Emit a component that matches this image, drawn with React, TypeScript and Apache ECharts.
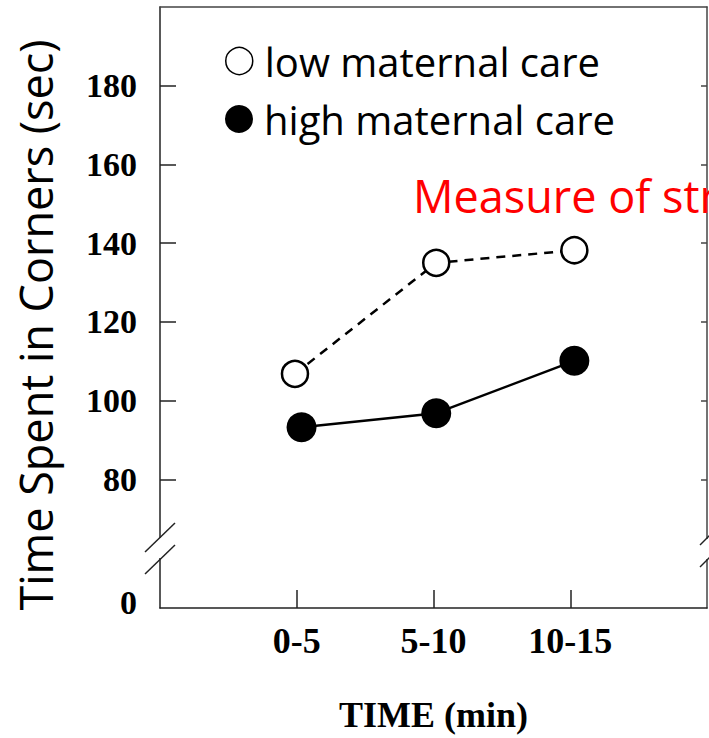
import React, { useEffect, useRef } from "react";
import * as echarts from "echarts";

// ---- data ----
const categories = ["0-5", "5-10", "10-15"];
const categoryPos = [1, 2, 3];
const lowX = [0.987, 2.02, 3.03];
const lowY = [106.8, 135.0, 138.2];
const highX = [1.035, 2.02, 3.03];
const highY = [93.2, 96.8, 110.1];
const yTickValues = [80, 100, 120, 140, 160, 180];
const yTickLabels = ["80", "100", "120", "140", "160", "180"];
const yBreakMin = 47.3; // bottom of the broken axis, labelled "0"
const yBreakLabel = "0";
const yMax = 200;
const seriesNames = ["low maternal care", "high maternal care"];
const yTitle = "Time Spent in Corners (sec)";
const xTitle = "TIME (min)";
const note = "Measure of stress";

const SANS = '"Open Sans", "Noto Sans", sans-serif';
const SERIF = '"Liberation Serif", "DejaVu Serif", serif';
const AXIS_COLOR = "#222";

export default function App() {
  const ref = useRef<HTMLDivElement>(null);
  useEffect(() => {
    if (!ref.current) return;
    const chart = echarts.init(ref.current, undefined, { renderer: "svg" });
    const yLabelValues = [yBreakMin, ...yTickValues];
    const yLabelTexts = [yBreakLabel, ...yTickLabels];
    const labelFont = { fontFamily: SERIF, fontWeight: "bold", fontSize: 34, color: "#000" };
    const option: any = {
      animation: false,
      backgroundColor: "#fff",
      grid: { left: 160, top: 7, right: 2, bottom: 130, containLabel: false },
      legend: [
        {
          data: [{ name: seriesNames[0], itemStyle: { borderWidth: 1.5 } }],
          left: 225,
          top: 41,
          orient: "vertical",
          icon: "circle",
          itemWidth: 27,
          itemHeight: 27,
          padding: 0,
          selectedMode: false,
          textStyle: { fontFamily: SANS, fontSize: 40, color: "#000", padding: [18, 0, 0, 7] },
        },
        {
          data: [{ name: seriesNames[1] }],
          left: 225,
          top: 99,
          orient: "vertical",
          icon: "circle",
          itemWidth: 28,
          itemHeight: 28,
          padding: 0,
          selectedMode: false,
          textStyle: { fontFamily: SANS, fontSize: 40, color: "#000", padding: [13, 0, 0, 6] },
        },
      ],
      xAxis: [
        {
          type: "value",
          min: 0,
          max: 4,
          position: "bottom",
          splitLine: { show: false },
          axisLine: { show: true, onZero: false, lineStyle: { color: AXIS_COLOR, width: 1.5 } },
          axisTick: {
            show: true,
            inside: true,
            length: 18,
            customValues: categoryPos,
            lineStyle: { color: AXIS_COLOR, width: 1.5 },
          },
          axisLabel: {
            show: true,
            customValues: categoryPos,
            formatter: (v: number) => categories[categoryPos.indexOf(Math.round(v))] ?? "",
            margin: 15,
            fontFamily: SERIF,
            fontWeight: "bold",
            fontSize: 36,
            color: "#000",
          },
          name: xTitle,
          nameLocation: "middle",
          nameGap: 89,
          nameTextStyle: { fontFamily: SERIF, fontWeight: "bold", fontSize: 36, color: "#000" },
        },
        {
          type: "value",
          min: 0,
          max: 4,
          position: "top",
          splitLine: { show: false },
          axisLine: { show: true, onZero: false, lineStyle: { color: "#444", width: 1.5 } },
          axisTick: { show: false },
          axisLabel: { show: false },
        },
      ],
      yAxis: [
        {
          type: "value",
          min: yBreakMin,
          max: yMax,
          position: "left",
          splitLine: { show: false },
          axisLine: { show: true, onZero: false, lineStyle: { color: AXIS_COLOR, width: 1.5 } },
          axisTick: {
            show: true,
            inside: true,
            length: 16,
            customValues: yTickValues,
            lineStyle: { color: AXIS_COLOR, width: 1.5 },
          },
          axisLabel: {
            show: true,
            customValues: yLabelValues,
            formatter: (v: number) => {
              const i = yLabelValues.findIndex((x) => Math.abs(x - v) < 0.01);
              if (i < 0) return "";
              return i === 0 ? "{z|" + yLabelTexts[i] + "}" : yLabelTexts[i];
            },
            margin: 23,
            ...labelFont,
            rich: { z: { ...labelFont, padding: [0, 0, 12, 0] } },
          },
        },
        {
          type: "value",
          min: yBreakMin,
          max: yMax,
          position: "right",
          splitLine: { show: false },
          axisLine: { show: true, onZero: false, lineStyle: { color: "#444", width: 1.5 } },
          axisTick: {
            show: true,
            inside: true,
            length: 6,
            customValues: yTickValues,
            lineStyle: { color: "#444", width: 1.5 },
          },
          axisLabel: { show: false },
        },
      ],
      series: [
        {
          type: "line",
          name: seriesNames[0],
          data: lowX.map((x, i) => [x, lowY[i]]),
          symbol: "circle",
          symbolSize: 26,
          showSymbol: true,
          itemStyle: { color: "#fff", borderColor: "#000", borderWidth: 2.5 },
          lineStyle: { color: "#000", width: 2.5, type: [9, 7] },
          z: 3,
        },
        {
          type: "line",
          name: seriesNames[1],
          data: highX.map((x, i) => [x, highY[i]]),
          symbol: "circle",
          symbolSize: 30,
          showSymbol: true,
          itemStyle: { color: "#000", borderColor: "#000", borderWidth: 0 },
          lineStyle: { color: "#000", width: 2.5 },
          z: 4,
        },
      ],
      graphic: [
        {
          type: "text",
          x: 35.5,
          y: 325,
          rotation: Math.PI / 2,
          z: 100,
          style: { text: yTitle, fontFamily: SANS, fontSize: 45, fill: "#000", align: "center", verticalAlign: "middle" },
        },
        {
          type: "text",
          x: 413,
          y: 195.5,
          z: 100,
          style: { text: note, fontFamily: SANS, fontSize: 45, fill: "#ff0000", align: "left", verticalAlign: "middle" },
        },
        // axis break marks (left)
        { type: "rect", z: 100, shape: { x: 156, y: 538, width: 8, height: 20 }, style: { fill: "#fff" } },
        { type: "line", z: 101, shape: { x1: 145, y1: 552, x2: 175, y2: 523 }, style: { stroke: AXIS_COLOR, lineWidth: 1.5 } },
        { type: "line", z: 101, shape: { x1: 145, y1: 574, x2: 175, y2: 545 }, style: { stroke: AXIS_COLOR, lineWidth: 1.5 } },
        // axis break marks (right)
        { type: "rect", z: 100, shape: { x: 703, y: 539, width: 8, height: 20 }, style: { fill: "#fff" } },
        { type: "line", z: 101, shape: { x1: 700, y1: 545, x2: 712, y2: 533 }, style: { stroke: AXIS_COLOR, lineWidth: 1.5 } },
        { type: "line", z: 101, shape: { x1: 700, y1: 567, x2: 712, y2: 555 }, style: { stroke: AXIS_COLOR, lineWidth: 1.5 } },
      ],
    };
    chart.setOption(option);
    return () => chart.dispose();
  }, []);
  return (
    <div
      ref={ref}
      style={{ position: "fixed", left: 0, top: 0, width: 709, height: 738, background: "#fff" }}
    />
  );
}
